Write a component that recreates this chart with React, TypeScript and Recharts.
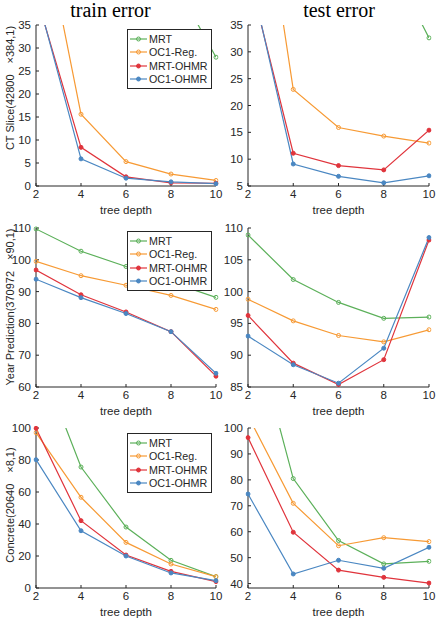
import { LineChart, Line, XAxis, YAxis, Legend } from 'recharts';

const depths = [2, 4, 6, 8, 10];
const seriesNames = ['MRT', 'OC1-Reg.', 'MRT-OHMR', 'OC1-OHMR'];
const COLORS = ['#5cb05a', '#f79a34', '#e0343c', '#4a87c2'];
const OPEN_MARKER = [true, true, false, false];

// CT Slice (42800 x 384,1)
const ctTrainMRT = [140, 95, 65, 45.7, 28.0];
const ctTrainOC1Reg = [64.7, 15.6, 5.3, 2.6, 1.2];
const ctTrainMRTOHMR = [41.6, 8.4, 2.0, 0.7, 0.6];
const ctTrainOC1OHMR = [42.3, 5.9, 1.7, 0.9, 0.5];
const ctTestMRT = [150, 100, 70, 49, 32.6];
const ctTestOC1Reg = [78.8, 23.0, 15.9, 14.3, 13.0];
const ctTestMRTOHMR = [45, 11.1, 8.8, 8.0, 15.4];
const ctTestOC1OHMR = [46, 9.1, 6.8, 5.6, 6.9];

// Year Prediction (370972 x 90,1)
const yearTrainMRT = [109.7, 102.7, 97.9, 93.0, 88.2];
const yearTrainOC1Reg = [99.5, 95.0, 92.0, 88.8, 84.4];
const yearTrainMRTOHMR = [96.8, 89.0, 83.6, 77.4, 63.4];
const yearTrainOC1OHMR = [93.9, 88.1, 83.1, 77.4, 64.3];
const yearTestMRT = [108.9, 101.9, 98.3, 95.8, 96.0];
const yearTestOC1Reg = [98.8, 95.4, 93.1, 92.1, 94.0];
const yearTestMRTOHMR = [96.25, 88.75, 85.4, 89.3, 108.1];
const yearTestOC1OHMR = [93.0, 88.5, 85.6, 91.1, 108.5];

// Concrete (20640 x 8,1)
const concTrainMRT = [148, 75.6, 38.1, 17.3, 7.1];
const concTrainOC1Reg = [97.1, 56.7, 28.5, 15.0, 7.1];
const concTrainMRTOHMR = [99.8, 42.1, 20.6, 10.4, 4.0];
const concTrainOC1OHMR = [80.2, 35.8, 20.0, 9.4, 4.6];
const concTestMRT = [146, 80.5, 56.6, 47.6, 48.6];
const concTestOC1Reg = [104.7, 70.95, 54.6, 57.7, 56.2];
const concTestMRTOHMR = [96.3, 59.8, 45.2, 42.4, 40.2];
const concTestOC1OHMR = [74.55, 43.7, 49.0, 45.9, 54.0];

const ctTicks = [0, 5, 10, 15, 20, 25, 30, 35];
const ctTestTicks = [5, 10, 15, 20, 25, 30, 35];
const yearTicks = [60, 70, 80, 90, 100, 110];
const yearTestTicks = [85, 90, 95, 100, 105, 110];
const concTicks = [0, 20, 40, 60, 80, 100];
const concTestTicks = [40, 50, 60, 70, 80, 90, 100];

const FONT = '"Liberation Sans", Arial, Helvetica, sans-serif';
const AXIS = '#262626';

function toRows(...series: number[][]) {
  return depths.map((d, i) => {
    const row: Record<string, number> = { depth: d };
    series.forEach((s, k) => (row['s' + k] = s[i]));
    return row;
  });
}

const renderLegend = (props: any) => {
  // keep the plotting order, not recharts' alphabetical one
  const items = [...(props.payload || [])].sort(
    (a: any, b: any) => seriesNames.indexOf(a.value) - seriesNames.indexOf(b.value)
  );
  return (
    <div
      style={{
        border: `1px solid ${AXIS}`,
        background: '#fff',
        width: 85,
        boxSizing: 'border-box',
        padding: '2px 0 2px 0',
        fontSize: 10.7,
        color: AXIS,
        fontFamily: FONT,
      }}
    >
      {items.map((entry: any) => {
        const k = seriesNames.indexOf(entry.value);
        return (
          <div key={entry.value} style={{ display: 'flex', alignItems: 'center', height: 13.5 }}>
            <svg width={21} height={8} style={{ flex: 'none' }}>
              <line x1={2} y1={4} x2={19} y2={4} stroke={entry.color} strokeWidth={1.2} />
              <circle
                cx={10.5}
                cy={4}
                r={2}
                fill={OPEN_MARKER[k] ? 'none' : entry.color}
                stroke={entry.color}
                strokeWidth={1}
              />
            </svg>
            <span style={{ whiteSpace: 'nowrap' }}>{entry.value}</span>
          </div>
        );
      })}
    </div>
  );
};

interface PanelProps {
  rows: Record<string, number>[];
  col: 0 | 1;
  top: number;
  plotH: number;
  domain: [number, number];
  ticks: number[];
  yTitle?: string;
  yTitleCy?: number;
  legendTop?: number;
}

function Panel({ rows, col, top, plotH, domain, ticks, yTitle, yTitleCy, legendTop }: PanelProps) {
  const margin =
    col === 0
      ? { top: 25, right: 220, bottom: 0, left: 0 }
      : { top: 25, right: 7, bottom: 0, left: 212 };
  const yLabel = yTitle
    ? () => (
        <text
          x={10}
          y={yTitleCy}
          transform={`rotate(-90 10 ${yTitleCy})`}
          textAnchor="middle"
          dominantBaseline="central"
          fontSize={11}
          fill={AXIS}
          style={{ whiteSpace: 'pre' }}
        >
          {yTitle}
        </text>
      )
    : undefined;

  return (
    <div style={{ position: 'absolute', left: 0, top }}>
      <LineChart width={436} height={plotH + 55} data={rows} margin={margin}>
        <XAxis
          xAxisId="b"
          dataKey="depth"
          type="number"
          domain={[2, 10]}
          ticks={depths}
          allowDataOverflow
          height={30}
          stroke={AXIS}
          tickSize={-3}
          tickMargin={7}
          tick={{ fontSize: 11.5, fill: AXIS }}
          label={{ value: 'tree depth', position: 'insideBottom', offset: 2, fontSize: 11.5, fill: AXIS }}
        />
        <XAxis
          xAxisId="t"
          orientation="top"
          dataKey="depth"
          type="number"
          domain={[2, 10]}
          ticks={depths}
          height={0}
          stroke={AXIS}
          tickSize={-3}
          tick={false}
        />
        <YAxis
          yAxisId="l"
          type="number"
          domain={domain}
          ticks={ticks}
          allowDataOverflow
          width={36}
          stroke={AXIS}
          tickSize={-3}
          tickMargin={8}
          tick={{ fontSize: 11.5, fill: AXIS }}
          label={yLabel}
        />
        <YAxis
          yAxisId="r"
          orientation="right"
          type="number"
          domain={domain}
          ticks={ticks}
          width={0}
          stroke={AXIS}
          tickSize={-3}
          tick={false}
        />
        {seriesNames.map((name, k) => (
          <Line
            key={name}
            xAxisId="b"
            yAxisId="l"
            type="linear"
            dataKey={'s' + k}
            name={name}
            stroke={COLORS[k]}
            strokeWidth={1.2}
            dot={{
              r: 2,
              fill: OPEN_MARKER[k] ? 'none' : COLORS[k],
              stroke: COLORS[k],
              strokeWidth: 1,
              clipDot: false,
            }}
            isAnimationActive={false}
          />
        ))}
        {legendTop !== undefined && (
          <Legend
            layout="vertical"
            align="center"
            verticalAlign="middle"
            content={renderLegend}
            wrapperStyle={{ left: 127, top: legendTop, width: 86 }}
          />
        )}
      </LineChart>
    </div>
  );
}

export default function App() {
  return (
    <div
      style={{
        position: 'absolute',
        left: 0,
        top: 0,
        width: 436,
        height: 618,
        background: '#fff',
        fontFamily: FONT,
      }}
    >
      <div
        style={{
          position: 'absolute',
          left: 50,
          width: 121,
          top: 0,
          lineHeight: '20px',
          textAlign: 'center',
          fontFamily: '"Liberation Serif", "Times New Roman", serif',
          fontSize: 20,
          color: '#000',
        }}
      >
        train error
      </div>
      <div
        style={{
          position: 'absolute',
          left: 279,
          width: 120,
          top: 0,
          lineHeight: '20px',
          textAlign: 'center',
          fontFamily: '"Liberation Serif", "Times New Roman", serif',
          fontSize: 20,
          color: '#000',
        }}
      >
        test error
      </div>

      <Panel
        rows={toRows(ctTrainMRT, ctTrainOC1Reg, ctTrainMRTOHMR, ctTrainOC1OHMR)}
        col={0}
        top={0}
        plotH={161}
        domain={[0, 35]}
        ticks={ctTicks}
        yTitle={'CT Slice(42800\u2003\u00d7384,1)'}
        yTitleCy={88}
        legendTop={29}
      />
      <Panel
        rows={toRows(ctTestMRT, ctTestOC1Reg, ctTestMRTOHMR, ctTestOC1OHMR)}
        col={1}
        top={0}
        plotH={161}
        domain={[5, 35]}
        ticks={ctTestTicks}
      />
      <Panel
        rows={toRows(yearTrainMRT, yearTrainOC1Reg, yearTrainMRTOHMR, yearTrainOC1OHMR)}
        col={0}
        top={203}
        plotH={159}
        domain={[60, 110]}
        ticks={yearTicks}
        yTitle={'Year Prediction(370972\u2003\u00d790,1)'}
        yTitleCy={104}
        legendTop={28}
      />
      <Panel
        rows={toRows(yearTestMRT, yearTestOC1Reg, yearTestMRTOHMR, yearTestOC1OHMR)}
        col={1}
        top={203}
        plotH={159}
        domain={[85, 110]}
        ticks={yearTestTicks}
      />
      <Panel
        rows={toRows(concTrainMRT, concTrainOC1Reg, concTrainMRTOHMR, concTrainOC1OHMR)}
        col={0}
        top={403}
        plotH={160}
        domain={[0, 100]}
        ticks={concTicks}
        yTitle={'Concrete(20640\u2003\u00d78,1)'}
        yTitleCy={102}
        legendTop={30}
      />
      <Panel
        rows={toRows(concTestMRT, concTestOC1Reg, concTestMRTOHMR, concTestOC1OHMR)}
        col={1}
        top={403}
        plotH={160}
        domain={[38.3, 100]}
        ticks={concTestTicks}
      />
    </div>
  );
}
